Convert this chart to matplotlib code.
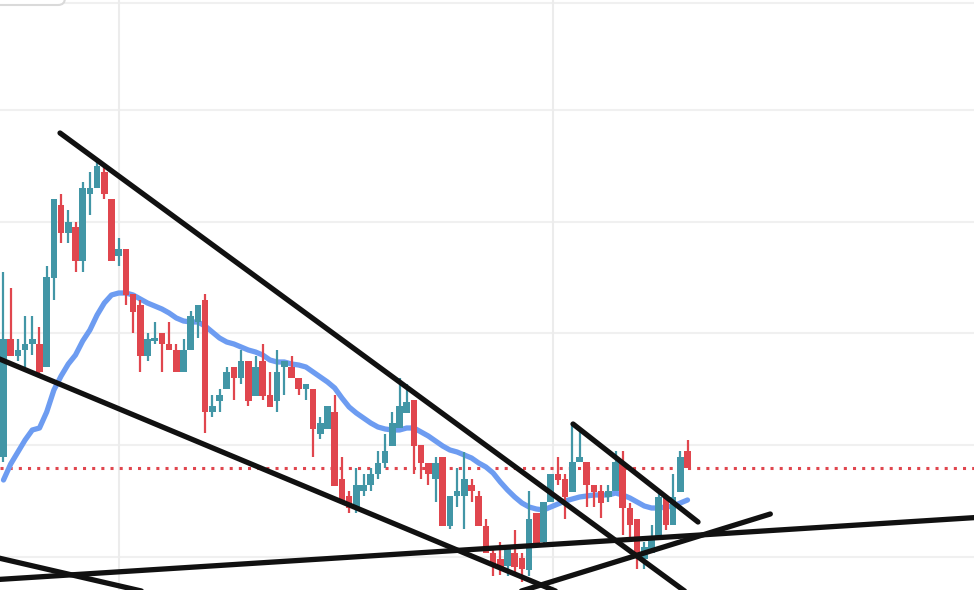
import numpy as np
import matplotlib.pyplot as plt
from matplotlib.patches import FancyBboxPatch
from matplotlib.transforms import IdentityTransform

# OHLC (arbitrary price units)
opens = [1.43, 2.61, 2.44, 2.50, 2.56, 2.56, 2.33, 3.22, 3.95, 3.67,
         3.73, 3.39, 4.06, 4.12, 4.28, 4.01, 3.44, 3.51, 3.06, 2.95,
         2.44, 2.59, 2.67, 2.56, 2.50, 2.28, 2.50, 2.78, 3.00, 1.88,
         1.99, 2.11, 2.33, 2.22, 2.39, 2.04, 2.39, 2.05, 1.99, 2.33,
         2.33, 2.22, 2.11, 2.11, 1.66, 1.71, 1.88, 1.21, 1.04, 0.92,
         1.09, 1.15, 1.26, 1.37, 1.54, 1.72, 1.87, 2.00, 1.55, 1.37,
         1.21, 1.43, 0.74, 1.04, 1.04, 1.15, 1.04, 0.74, 0.47, 0.41,
         0.34, 0.47, 0.42, 0.30, 0.87, 0.58, 0.98, 1.26, 1.21, 1.08,
         1.38, 1.38, 1.15, 1.09, 1.03, 1.09, 1.38, 0.92, 0.81, 0.41,
         0.47, 0.64, 1.03, 0.75, 1.08, 1.49]
highs = [3.28, 3.12, 2.61, 2.84, 2.84, 2.73, 3.34, 4.01, 4.06, 3.90,
         3.78, 4.18, 4.28, 4.39, 4.34, 4.01, 3.62, 3.51, 3.06, 3.00,
         2.67, 2.78, 2.67, 2.78, 2.56, 2.61, 2.89, 2.95, 3.06, 2.05,
         2.11, 2.33, 2.33, 2.50, 2.39, 2.44, 2.56, 2.28, 2.50, 2.39,
         2.44, 2.22, 2.16, 2.11, 1.83, 1.94, 2.05, 1.43, 1.09, 1.32,
         1.26, 1.32, 1.49, 1.66, 1.88, 2.22, 2.16, 2.00, 1.55, 1.37,
         1.43, 1.43, 1.04, 1.32, 1.48, 1.21, 1.09, 0.81, 0.53, 0.58,
         0.53, 0.70, 0.47, 1.09, 0.87, 0.98, 1.26, 1.43, 1.26, 1.77,
         1.71, 1.38, 1.15, 1.15, 1.15, 1.49, 1.49, 0.97, 0.81, 0.58,
         0.75, 1.09, 1.04, 1.26, 1.49, 1.60]
lows = [1.38, 2.44, 2.39, 2.33, 2.45, 2.22, 2.33, 3.00, 3.57, 3.57,
        3.28, 3.28, 3.85, 4.12, 4.01, 3.39, 3.34, 2.95, 2.67, 2.28,
        2.39, 2.56, 2.28, 2.50, 2.28, 2.28, 2.50, 2.62, 1.67, 1.83,
        1.88, 2.11, 2.00, 2.16, 1.94, 2.04, 2.00, 1.93, 1.88, 2.05,
        2.22, 2.05, 2.00, 1.43, 1.61, 1.71, 1.14, 0.97, 0.87, 0.87,
        1.04, 1.09, 1.21, 1.32, 1.54, 1.72, 1.87, 1.26, 1.21, 1.15,
        0.98, 0.74, 0.71, 0.93, 0.71, 0.98, 0.74, 0.47, 0.24, 0.25,
        0.24, 0.24, 0.18, 0.24, 0.53, 0.53, 0.98, 1.15, 0.81, 1.08,
        1.38, 0.93, 0.93, 0.82, 0.98, 1.09, 0.65, 0.58, 0.31, 0.31,
        0.47, 0.64, 0.70, 0.75, 1.08, 1.32]
closes = [2.61, 2.44, 2.50, 2.56, 2.61, 2.28, 3.23, 4.01, 3.67, 3.78,
          3.39, 4.12, 4.12, 4.34, 4.06, 3.39, 3.51, 3.05, 2.88, 2.44,
          2.61, 2.62, 2.56, 2.50, 2.28, 2.50, 2.84, 2.95, 1.88, 1.94,
          2.05, 2.28, 2.22, 2.39, 1.99, 2.33, 2.04, 1.93, 2.28, 2.39,
          2.22, 2.11, 2.16, 1.71, 1.77, 1.94, 1.14, 0.97, 0.92, 1.15,
          1.15, 1.26, 1.37, 1.49, 1.77, 1.94, 1.98, 1.54, 1.37, 1.26,
          1.37, 0.74, 1.04, 1.09, 1.21, 1.09, 0.74, 0.47, 0.36, 0.33,
          0.53, 0.33, 0.31, 0.81, 0.53, 0.98, 1.26, 1.20, 1.03, 1.38,
          1.43, 1.15, 1.08, 0.97, 1.09, 1.38, 0.92, 0.75, 0.47, 0.53,
          0.64, 1.03, 0.75, 1.03, 1.43, 1.32]

# moving average as drawn on the chart
ma = [1.20, 1.36, 1.48, 1.60, 1.70, 1.72, 1.88, 2.10, 2.24, 2.36,
      2.45, 2.59, 2.70, 2.85, 2.97, 3.05, 3.07, 3.07, 3.05, 3.01,
      2.97, 2.94, 2.91, 2.87, 2.82, 2.79, 2.78, 2.78, 2.74, 2.68,
      2.62, 2.58, 2.56, 2.53, 2.50, 2.48, 2.45, 2.40, 2.38, 2.38,
      2.36, 2.35, 2.33, 2.28, 2.23, 2.18, 2.12, 2.02, 1.93, 1.87,
      1.82, 1.77, 1.73, 1.71, 1.70, 1.70, 1.72, 1.72, 1.68, 1.64,
      1.59, 1.54, 1.50, 1.48, 1.45, 1.42, 1.37, 1.33, 1.27, 1.18,
      1.10, 1.03, 0.97, 0.93, 0.91, 0.90, 0.93, 0.96, 0.99, 1.01,
      1.03, 1.04, 1.05, 1.05, 1.05, 1.07, 1.05, 1.02, 0.98, 0.94,
      0.92, 0.92, 0.93, 0.94, 0.97, 1.00]

# hand-drawn trend lines: (bar0, price0, bar1, price1)
trend_lines = [
    (7.85, 4.67, 95.35, 0.05),
    (79.1, 1.76, 96.46, 0.78),
    (-1.88, 2.45, 77.99, 0.05),
    (-1.88, 0.20, 136.2, 0.83),
    (-1.88, 0.44, 20.35, 0.07),
    (71.04, 0.07, 106.5, 0.86),
]

grid_prices = [5.97, 4.90, 3.78, 2.67, 1.55, 0.43]
grid_bars = [16.04, 76.32]

up_col = '#4296a6'
down_col = '#e0464e'

fig = plt.figure(figsize=(9.74, 5.90), dpi=100)
ax = fig.add_axes([0, 0, 1, 1])
ax.set_xlim(-0.486, 134.79)
ax.set_ylim(0.10, 6.00)
ax.axis('off')

for p in grid_prices:
    ax.axhline(p, color='#f0f0f0', lw=1.5, zorder=0)
for b in grid_bars:
    ax.axvline(b, color='#ececec', lw=1.5, zorder=0)

# legend box peeking in at the top-left corner (pixel coords)
box = FancyBboxPatch((-20, 585), 85, 40, boxstyle='round,pad=0,rounding_size=7',
                     transform=IdentityTransform(), facecolor='white',
                     edgecolor='#dadada', lw=1.5, zorder=5)
fig.patches.append(box)

x = np.arange(len(closes))
o = np.array(opens)
c = np.array(closes)
cols = [up_col if cc >= oo else down_col for oo, cc in zip(o, c)]

# last price line
ax.axhline(closes[-1], color=down_col, lw=2.2, ls=(0, (1, 2)), zorder=1)

ax.plot(x, ma, color='#6d9cf1', lw=3.8, solid_capstyle='round', zorder=2)

ax.vlines(x, lows, highs, colors=cols, lw=1.6, zorder=3)
ax.bar(x, np.maximum(np.abs(c - o), 0.03), bottom=np.minimum(o, c), width=0.9,
       color=cols, zorder=3)

for x0, y0, x1, y1 in trend_lines:
    ax.plot([x0, x1], [y0, y1], color='#111111', lw=3.8,
            solid_capstyle='round', zorder=4)

fig.savefig('out.png', dpi=100)
